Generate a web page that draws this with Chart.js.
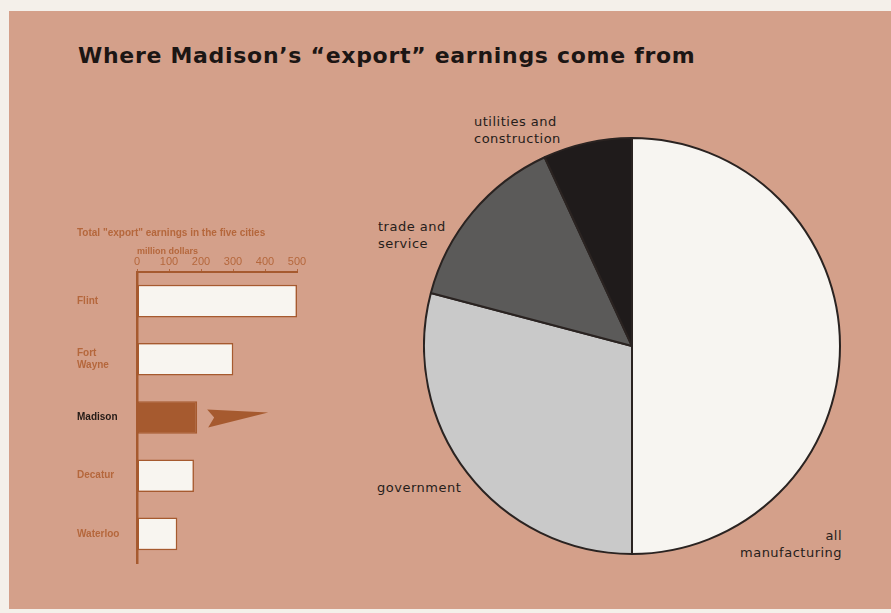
<!DOCTYPE html>
<html><head><meta charset="utf-8">
<script src="https://cdn.jsdelivr.net/npm/chart.js@4.4.1/dist/chart.umd.min.js"></script>
<style>
html,body{margin:0;padding:0;background:#f4f0ea;width:891px;height:613px;overflow:hidden;}
#panel{position:absolute;left:9px;top:11px;width:882px;height:598px;background:#d4a08a;}
.t{position:absolute;white-space:nowrap;}
#title{left:78px;top:43px;font:bold 22px "DejaVu Sans";color:#1c1614;letter-spacing:0.7px;}
.pl{font:13px "DejaVu Sans";color:#261d1a;letter-spacing:0.5px;line-height:17px;}
#barbox{position:absolute;left:60px;top:223px;}
#piebox{position:absolute;left:423px;top:137px;}
</style></head>
<body>
<div id="panel"></div>
<div class="t" id="title">Where Madison’s “export” earnings come from</div>
<div class="t pl" style="left:474px;top:113px;">utilities and<br>construction</div>
<div class="t pl" style="left:378px;top:218px;">trade and<br>service</div>
<div class="t pl" style="left:377px;top:479px;">government</div>
<div class="t pl" style="left:740px;top:527px;text-align:right;">all<br>manufacturing</div>
<div id="barbox"><canvas id="bar" width="262" height="350"></canvas></div>
<div id="piebox"><canvas id="pie" width="418" height="418"></canvas></div>
<script>
// ---- data ----
const cities = ['Flint', ['Fort', 'Wayne'], 'Madison', 'Decatur', 'Waterloo'];
const earnings = [500, 301, 188, 178, 126];
const xTickValues = [0, 100, 200, 300, 400, 500];
const barTitle = 'Total "export" earnings in the five cities';
const barUnit = 'million dollars';
const highlightIndex = 2;

const sectors = ['all manufacturing', 'government', 'trade and service', 'utilities and construction'];
const shares = [50, 29.1, 14, 6.9];

// ---- styles ----
const orange = '#b5673c';
const brown = '#a65a2f';
const dark = '#231a16';

const arrowPlugin = {
  id: 'arrow',
  afterDatasetsDraw(chart) {
    const bar = chart.getDatasetMeta(0).data[highlightIndex];
    const x = bar.x, y = bar.y, c = chart.ctx;
    c.save();
    c.fillStyle = brown;
    c.beginPath();
    c.moveTo(x + 10, y - 8);
    c.lineTo(x + 71, y - 5);
    c.lineTo(x + 11, y + 10);
    c.lineTo(x + 17, y);
    c.closePath();
    c.fill();
    c.restore();
  }
};

new Chart(document.getElementById('bar'), {
  type: 'bar',
  data: {
    labels: cities,
    datasets: [{
      data: earnings,
      backgroundColor: earnings.map((v, i) => i === highlightIndex ? brown : '#f8f5f0'),
      borderColor: brown,
      borderWidth: 1.5,
      borderSkipped: false,
      categoryPercentage: 1,
      barPercentage: 0.56
    }]
  },
  options: {
    indexAxis: 'y',
    responsive: false,
    animation: false,
    layout: { padding: { left: 17, right: 25, top: 0, bottom: 2 } },
    plugins: {
      legend: { display: false },
      tooltip: { enabled: false },
      title: {
        display: true, text: barTitle, align: 'start', color: orange,
        font: { family: 'Liberation Sans', size: 10, weight: 'bold' },
        padding: { top: 4, bottom: 4 }
      }
    },
    scales: {
      x: {
        position: 'top', min: 0, max: 500,
        afterBuildTicks: s => { s.ticks = xTickValues.map(v => ({ value: v })); },
        ticks: { color: orange, padding: 0, font: { family: 'Liberation Sans', size: 11 } },
        grid: { drawOnChartArea: false, drawTicks: true, tickLength: 3, color: orange, lineWidth: 1 },
        border: { color: brown, width: 2 },
        title: {
          display: true, text: barUnit, align: 'start', color: orange,
          font: { family: 'Liberation Sans', size: 9, weight: 'bold' },
          padding: { top: 3, bottom: -1 }
        }
      },
      y: {
        afterFit: s => { s.width = 60; },
        ticks: {
          crossAlign: 'far', padding: 4,
          color: c => c.index === highlightIndex ? dark : orange,
          font: { family: 'Liberation Sans', size: 10, weight: 'bold' }
        },
        grid: { drawOnChartArea: false, drawTicks: false },
        border: { color: brown, width: 2.5 }
      }
    }
  },
  plugins: [arrowPlugin]
});

new Chart(document.getElementById('pie'), {
  type: 'pie',
  data: {
    labels: sectors,
    datasets: [{
      data: shares,
      backgroundColor: ['#f7f5f1', '#c9c9c9', '#5b5a59', '#1f1b1b'],
      borderColor: '#2a2321',
      borderWidth: 2
    }]
  },
  options: {
    responsive: false,
    animation: false,
    plugins: { legend: { display: false }, tooltip: { enabled: false } }
  }
});
</script>
</body></html>
